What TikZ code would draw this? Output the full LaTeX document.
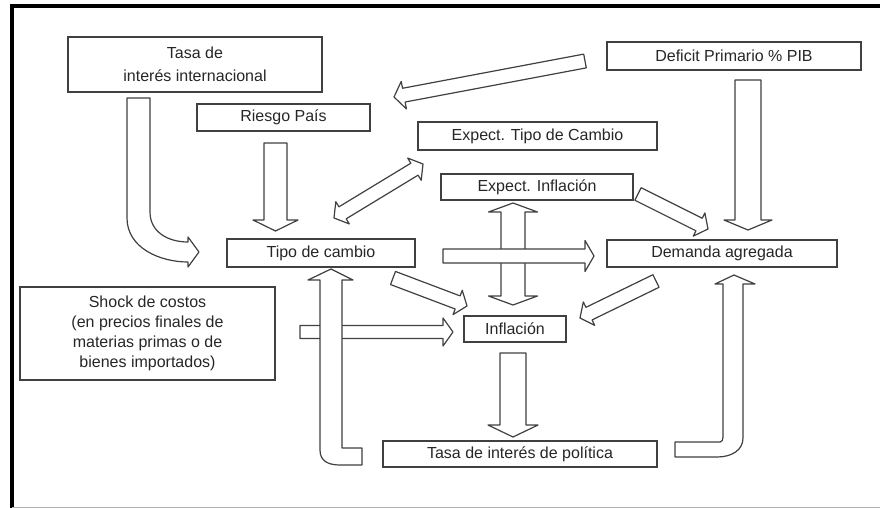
\documentclass[tikz,border=0pt]{standalone}
\usepackage{fontspec}
\setmainfont{Liberation Sans}
\usetikzlibrary{calc}

\newcommand{\flecha}[5]{%
  \coordinate (fc) at ($(#2)!#5!(#1)$);
  \draw[bloque] ($(#1)!#3!90:(#2)$) -- ($(fc)!#3!90:(#2)$) -- ($(fc)!#4!90:(#2)$) -- (#2)
    -- ($(fc)!#4!-90:(#2)$) -- ($(fc)!#3!-90:(#2)$) -- ($(#1)!#3!-90:(#2)$) -- cycle;
}
\newcommand{\dflecha}[5]{%
  \coordinate (fc) at ($(#2)!#5!(#1)$);
  \coordinate (fd) at ($(#1)!#5!(#2)$);
  \draw[bloque] ($(fd)!#3!90:(#2)$) -- ($(fc)!#3!90:(#2)$) -- ($(fc)!#4!90:(#2)$) -- (#2)
    -- ($(fc)!#4!-90:(#2)$) -- ($(fc)!#3!-90:(#2)$) -- ($(fd)!#3!-90:(#2)$)
    -- ($(fd)!#4!-90:(#2)$) -- (#1) -- ($(fd)!#4!90:(#2)$) -- cycle;
}

\begin{document}
\begin{tikzpicture}[x=1pt,y=-1pt,
    caja/.style={draw=black!75,line width=1.2pt,inner sep=0pt,text=black!85,
      font=\fontsize{16}{20}\selectfont},
    bloque/.style={draw=black!75,fill=white,line width=1.2pt,line join=round}]
  \useasboundingbox (0,0) rectangle (880,508);
  \draw[line width=4pt] (12,508) -- (12,6) -- (880,6);
  \draw[black!30,line width=1pt] (12,507) -- (880,507);

  \node[caja,minimum width=254pt,minimum height=55pt,align=center] (tasaint) at (195,64.5) {Tasa de\\[3pt]interés internacional};
  \node[caja,minimum width=173pt,minimum height=27pt] (riesgo) at (283.5,117.5) {Riesgo País};
  \node[caja,minimum width=254pt,minimum height=28pt] (deficit) at (734,56) {Deficit Primario \% PIB};
  \node[caja,minimum width=239pt,minimum height=28pt] (exptc) at (537.5,136) {Expect. Tipo de Cambio};
  \node[caja,minimum width=192pt,minimum height=26pt] (expinf) at (537,187) {Expect. Inflación};
  \node[caja,minimum width=188pt,minimum height=28pt] (tipo) at (321,253) {Tipo de cambio};
  \node[caja,minimum width=230pt,minimum height=27pt] (demanda) at (722,253.5) {Demanda agregada};
  \node[caja,minimum width=255pt,minimum height=93pt,align=center] (shock) at (147.5,333.5) {Shock de costos\\(en precios finales de\\materias primas o de\\bienes importados)};
  \node[caja,minimum width=102pt,minimum height=26pt] (inflacion) at (515,329) {Inflación};
  \node[caja,minimum width=274pt,minimum height=26pt] (politica) at (520,454) {Tasa de interés de política};

  \coordinate (ri-s) at (275.5,143);  \coordinate (tc-n) at (275.5,231);
  \coordinate (df-w) at (585,61);     \coordinate (ri-e) at (394,97);
  \coordinate (df-s) at (748,80);     \coordinate (da-n) at (748,230);
  \coordinate (ei-s) at (513,203);    \coordinate (in-n) at (513,305);
  \coordinate (tc-ne) at (334,218);   \coordinate (et-sw) at (423,164);
  \coordinate (tc-e) at (443,256);    \coordinate (da-w) at (594,256);
  \coordinate (ei-e) at (638,194);    \coordinate (da-nw) at (708,229);
  \coordinate (tc-se) at (393,278);   \coordinate (in-nw) at (467,306);
  \coordinate (da-sw) at (656,281);   \coordinate (in-ne) at (580,318);
  \coordinate (sh-e) at (300,332);    \coordinate (in-w) at (453,332);
  \coordinate (in-s) at (513,353);    \coordinate (tp-n) at (513,437);

  \dflecha{tc-ne}{et-sw}{7pt}{13pt}{10pt}
  \dflecha{in-n}{ei-s}{12pt}{24.5pt}{9pt}
  \foreach \a/\b/\w/\h/\l in {ri-s/tc-n/11.5pt/22.5pt/11pt, df-w/ri-e/7pt/14pt/10pt,
      df-s/da-n/13pt/24pt/10pt, tc-e/da-w/7pt/15.5pt/9pt, ei-e/da-nw/7pt/13pt/10pt,
      tc-se/in-nw/7pt/13pt/10pt, da-sw/in-ne/7pt/13pt/10pt, sh-e/in-w/6.5pt/14pt/10pt,
      in-s/tp-n/13pt/25pt/12pt}
    \flecha{\a}{\b}{\w}{\h}{\l};

  \draw[bloque] (127,98) -- (127,218) .. controls (127,248) and (160,262) .. (188,262) -- (188,267)
    -- (199,252) -- (188,237) -- (188,242) .. controls (168,242) and (150,232) .. (150,212) -- (150,98) -- cycle;
  \draw[bloque] (362,448) -- (342,448) -- (342,280) -- (353,280) -- (331,269) -- (308,280) -- (320,280)
    -- (320,450) .. controls (320,461) and (328,465) .. (340,465) -- (362,465) -- cycle;
  \draw[bloque] (675,442) -- (720,442) .. controls (722,442) and (723,440) .. (723,437) -- (723,284) -- (715,284)
    -- (734,275) -- (755,284) -- (743,284) -- (743,438) .. controls (743,450) and (732,457) .. (717,457) -- (675,457) -- cycle;
\end{tikzpicture}
\end{document}
